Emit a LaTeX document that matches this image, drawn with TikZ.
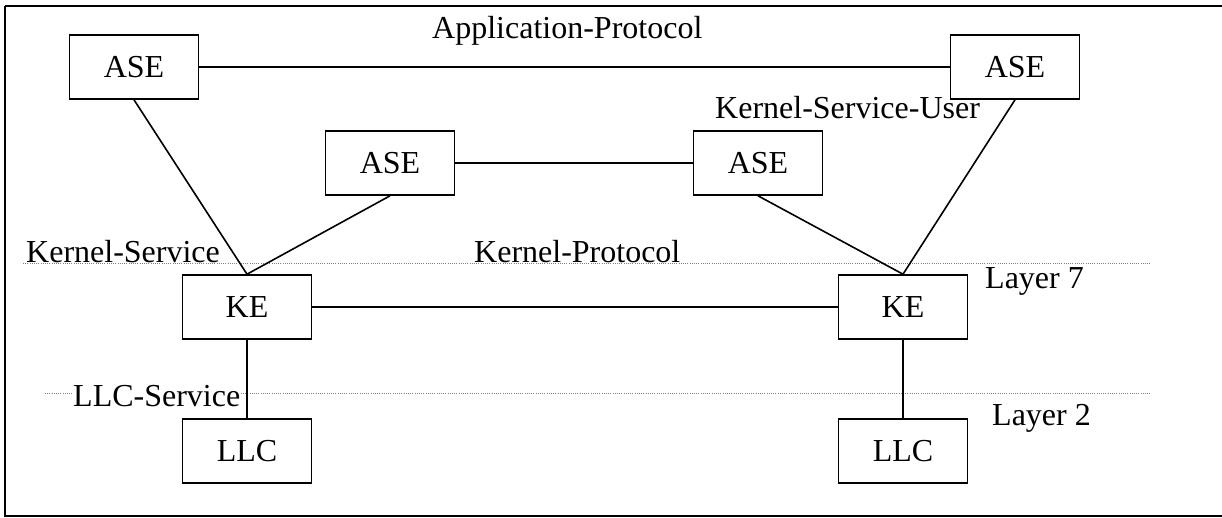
\documentclass[tikz,border=0pt]{standalone}
\usepackage{fontspec}
\setmainfont{Liberation Serif}
\begin{document}
\begin{tikzpicture}[x=1pt,y=-1pt,
  box/.style={draw,line width=1.6pt,minimum width=129pt,minimum height=64pt,inner sep=0pt,fill=white,font=\fontsize{32}{38}\selectfont},
  lbl/.style={inner sep=0pt,anchor=base west,font=\fontsize{32}{38}\selectfont},
  conn/.style={line width=1.6pt},
  layerline/.style={line width=0.9pt,gray,dash pattern=on 1pt off 1.2pt}]
\useasboundingbox (0,0) rectangle (1222,517);
\clip (0,0) rectangle (1222,517);
\draw[line width=1.8pt] (5,6) -- (1240,6) (5,6) -- (5,516) -- (1240,516);
% layer lines
\coordinate (l7a) at (23,263);
\coordinate (l7b) at (1150,263);
\coordinate (l2a) at (45,393);
\coordinate (l2b) at (1150,393);
\draw[layerline] (l7a) -- (l7b);
\draw[layerline] (l2a) -- (l2b);
% labels
\node[lbl] (tap) at (432,38) {Application-Protocol};
\node[lbl] (tksu) at (715,118) {Kernel-Service-User};
\node[lbl] (tks) at (26,262) {Kernel-Service};
\node[lbl,fill=white,inner sep=1pt] (tkp) at (473,262) {Kernel-Protocol};
\node[lbl] (tl7) at (985,288) {Layer 7};
\node[lbl,fill=white,inner sep=1pt] (tllc) at (72,406) {LLC-Service};
\node[lbl] (tl2) at (992,425) {Layer 2};
% boxes
\node[box] (aseTL) at (134,67) {ASE};
\node[box] (aseTR) at (1015,67) {ASE};
\node[box] (aseML) at (390,163) {ASE};
\node[box] (aseMR) at (758,163) {ASE};
\node[box] (keL) at (247,307) {KE};
\node[box] (keR) at (903,307) {KE};
\node[box] (llcL) at (247,451) {LLC};
\node[box] (llcR) at (903,451) {LLC};
% connectors
\draw[conn] (aseTL.east) -- (aseTR.west);
\draw[conn] (aseML.east) -- (aseMR.west);
\draw[conn] (aseTL.south) -- (keL.north);
\draw[conn] (aseML.south) -- (keL.north);
\draw[conn] (aseTR.south) -- (keR.north);
\draw[conn] (aseMR.south) -- (keR.north);
\draw[conn] (keL.east) -- (keR.west);
\draw[conn] (keL.south) -- (llcL.north);
\draw[conn] (keR.south) -- (llcR.north);
\end{tikzpicture}
\end{document}
